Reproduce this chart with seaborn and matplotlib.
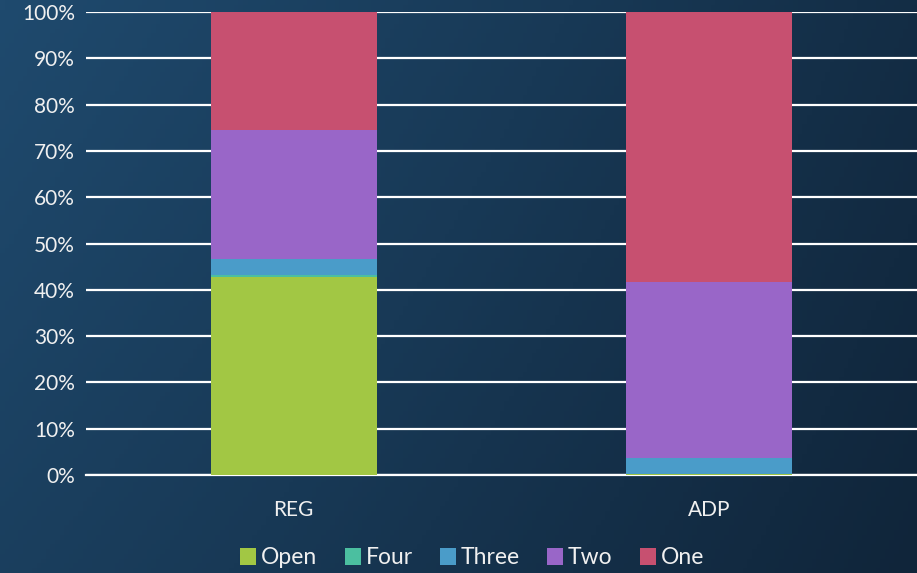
import numpy as np
import pandas as pd
import matplotlib
matplotlib.use("Agg")
import matplotlib.pyplot as plt
import seaborn as sns
from matplotlib.patches import Patch
from matplotlib.colors import LinearSegmentedColormap

# data (percent of each group)
groups = ["REG", "ADP"]
series = ["Open", "Four", "Three", "Two", "One"]
open_vals = [42.8, 0.3]
four_vals = [0.3, 0.0]
three_vals = [3.6, 3.4]
two_vals = [27.9, 38.0]
one_vals = [25.4, 58.3]
colors = ["#a2c744", "#4bbfa0", "#4a9cc9", "#9966c8", "#c75070"]
ytick_labels = [f"{v}%" for v in range(0, 101, 10)]

sns.set_style("white")
plt.rcParams["font.family"] = ["Lato", "DejaVu Sans"]

fig = plt.figure(figsize=(9.17, 5.73), dpi=100)

# background gradient
bg = fig.add_axes([0, 0, 1, 1], zorder=0)
bg.axis("off")
xx, yy = np.meshgrid(np.linspace(0, 1, 200), np.linspace(0, 1, 120))
grad = np.clip(0.6 * xx + 0.25 * yy * (1 - xx) + 0.15 * xx * yy, 0, 1)
cmap = LinearSegmentedColormap.from_list("bg", ["#1f4a6e", "#183956", "#10253a"])
bg.imshow(grad, cmap=cmap, aspect="auto", extent=[0, 1, 0, 1])

ax = fig.add_axes([86 / 917, 1 - 475 / 573, 1 - 86 / 917, (475 - 12) / 573], zorder=1)
ax.patch.set_alpha(0)

df = pd.DataFrame({"group": groups, "Open": open_vals, "Four": four_vals,
                   "Three": three_vals, "Two": two_vals, "One": one_vals})
cum = df[series].cumsum(axis=1)

# draw tallest (cumulative) first so each segment shows
for s, c in reversed(list(zip(series, colors))):
    sns.barplot(x=df["group"], y=cum[s], color=c, width=0.4, ax=ax,
                saturation=1, zorder=3, edgecolor="none")

ax.set_ylim(0, 100)
ax.set_xlim(-0.5, 1.5)
ax.set_yticks(range(0, 101, 10))
ax.set_yticklabels(ytick_labels)
ax.yaxis.grid(True, color="white", lw=1.6, zorder=1)
ax.set_axisbelow(True)
ax.set_xlabel("")
ax.set_ylabel("")
ax.tick_params(axis="both", colors="#f0f0f0", labelsize=15, length=0)
ax.tick_params(axis="x", pad=18)
ax.tick_params(axis="y", pad=8)
for side in ["top", "right", "left"]:
    ax.spines[side].set_visible(False)
ax.spines["bottom"].set_color("white")
ax.spines["bottom"].set_linewidth(1.6)

handles = [Patch(facecolor=c, edgecolor="none") for c in colors]
fig.legend(handles, series, loc="center", bbox_to_anchor=(0.515, 1 - 558 / 573),
           ncol=5, frameon=False, fontsize=16.5, labelcolor="#f0f0f0",
           handlelength=0.7, handleheight=0.7, handletextpad=0.2,
           columnspacing=1.2)

fig.savefig("out.png", dpi=100)
